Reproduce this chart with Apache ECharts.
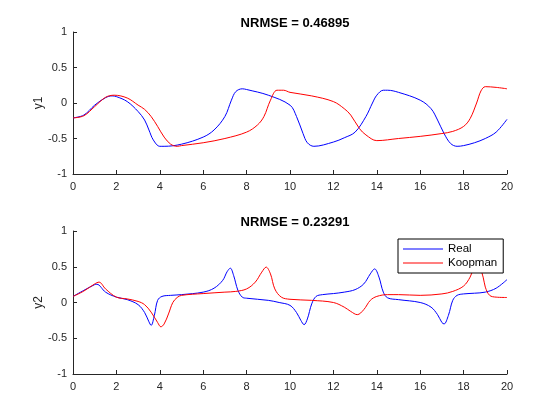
<!DOCTYPE html>
<html>
<head>
<meta charset="utf-8">
<script src="https://cdn.jsdelivr.net/npm/echarts@6/dist/echarts.min.js"></script>
<style>html,body{margin:0;padding:0;background:#fff}#c{width:560px;height:420px}</style>
</head>
<body>
<div id="c"></div>
<script>
// ---- Data ----
const titles = ['NRMSE = 0.46895', 'NRMSE = 0.23291'];
const yNames = ['y1', 'y2'];
const xTicks = [0, 2, 4, 6, 8, 10, 12, 14, 16, 18, 20];
const yTicks = [-1, -0.5, 0, 0.5, 1];

const tRealY1 = [0,0.5,1,1.5,1.8,2,2.5,3,3.3,3.5,3.7,4,4.2,5,6,6.5,7,7.3,7.5,7.8,8,9,10,10.3,10.6,10.8,11.1,12,12.5,13,13.5,13.8,14,14.3,14.5,15,16,16.5,16.8,17.1,17.4,17.7,18,18.5,19,19.5,20];
const realY1 = [-0.21,-0.17,-0.03,0.075,0.10,0.09,0.02,-0.12,-0.24,-0.38,-0.52,-0.61,-0.61,-0.58,-0.48,-0.38,-0.19,0.04,0.16,0.20,0.19,0.11,-0.03,-0.19,-0.43,-0.56,-0.61,-0.55,-0.49,-0.41,-0.19,0,0.11,0.18,0.18,0.15,0.04,-0.08,-0.24,-0.43,-0.57,-0.61,-0.60,-0.56,-0.50,-0.41,-0.23];

const tKoopY1 = [0,0.5,1,1.5,1.9,2.5,3,3.3,3.6,3.9,4.2,4.5,4.8,5,6,7,8,8.5,8.8,9.1,9.4,9.7,10,11,12,12.5,12.8,13.2,13.5,14,15,16,17,17.5,18,18.3,18.6,18.8,19,19.5,20];
const koopY1 = [-0.21,-0.18,-0.05,0.08,0.11,0.07,-0.03,-0.09,-0.19,-0.33,-0.48,-0.58,-0.61,-0.60,-0.56,-0.50,-0.41,-0.31,-0.19,0.04,0.18,0.18,0.15,0.10,0.02,-0.08,-0.17,-0.36,-0.45,-0.53,-0.50,-0.47,-0.43,-0.40,-0.33,-0.22,0,0.17,0.23,0.22,0.20];

const tRealY2 = [0,0.5,1,1.1,1.5,2,2.5,3,3.3,3.5,3.6,3.75,3.9,4.1,4.5,5,6,6.5,6.9,7.1,7.25,7.4,7.6,7.8,8,9,9.5,10,10.3,10.5,10.65,10.8,11,11.2,11.5,12,12.5,13,13.4,13.7,13.9,14.1,14.3,14.5,15,16,16.5,16.8,17,17.1,17.3,17.5,17.7,18,18.5,19,19.5,20];
const realY2 = [0.085,0.17,0.25,0.255,0.145,0.075,0.04,-0.03,-0.14,-0.27,-0.32,-0.18,0.03,0.085,0.10,0.11,0.145,0.20,0.31,0.43,0.48,0.38,0.17,0.075,0.06,0.03,0,-0.04,-0.14,-0.25,-0.31,-0.23,-0.02,0.085,0.11,0.125,0.145,0.18,0.26,0.40,0.47,0.355,0.145,0.065,0.04,0,-0.065,-0.17,-0.28,-0.30,-0.18,0.03,0.10,0.12,0.13,0.145,0.20,0.32];

const tKoopY2 = [0,0.5,1,1.2,1.5,2,2.5,3,3.3,3.6,3.9,4.05,4.2,4.4,4.6,4.8,5,6,7,7.5,8,8.4,8.7,8.9,9.1,9.3,9.6,10,11,12,12.5,12.8,13.1,13.4,13.7,14,14.5,15,16,17,17.5,18,18.3,18.5,18.65,18.9,19,19.2,19.5,20];
const koopY2 = [0.085,0.16,0.26,0.285,0.19,0.075,0.05,0.015,-0.03,-0.135,-0.28,-0.34,-0.30,-0.16,0,0.07,0.10,0.125,0.145,0.155,0.19,0.285,0.425,0.495,0.40,0.19,0.075,0.045,0.03,0,-0.065,-0.125,-0.17,-0.10,0.03,0.085,0.11,0.11,0.10,0.12,0.155,0.23,0.355,0.50,0.55,0.355,0.215,0.10,0.075,0.07];

// ---- Chart ----
const zip = (xs, ys) => xs.map((x, i) => [x, ys[i]]);
const axisColor = '#262626';
const font = 'Liberation Sans, Arial, Helvetica, sans-serif';

const grids = [
  { left: 73, right: 53, top: 32, height: 142 },
  { left: 73, right: 53, top: 231, height: 143 }
];

function xAxis(i) {
  return {
    type: 'value', gridIndex: i, min: 0, max: 20, interval: 2,
    axisLine: { onZero: false, lineStyle: { color: axisColor, width: 1 } },
    axisTick: { inside: true, length: 4, lineStyle: { color: axisColor } },
    axisLabel: { color: axisColor, fontSize: 11, fontFamily: font, margin: 7,
      formatter: v => xTicks.includes(v) ? String(v) : '' },
    splitLine: { show: false }
  };
}
function yAxis(i) {
  return {
    type: 'value', gridIndex: i, min: -1, max: 1, interval: 0.5,
    name: yNames[i], nameLocation: 'middle', nameGap: 28, nameRotate: 90,
    nameMoveOverlap: false,
    nameTextStyle: { color: axisColor, fontSize: 12, fontFamily: font },
    axisLine: { show: true, onZero: false, lineStyle: { color: axisColor, width: 1 } },
    axisTick: { show: true, inside: true, length: 4, lineStyle: { color: axisColor } },
    axisLabel: { color: axisColor, fontSize: 11, fontFamily: font, margin: 6,
      formatter: v => yTicks.includes(v) ? String(v) : '' },
    splitLine: { show: false }
  };
}
function line(name, data, color, i) {
  return {
    name, type: 'line', xAxisIndex: i, yAxisIndex: i, data,
    smooth: 0.35, symbol: 'none', showSymbol: false,
    lineStyle: { color, width: 1 }, itemStyle: { color }, z: 2
  };
}

const chart = echarts.init(document.getElementById('c'), null, { renderer: 'canvas' });
chart.setOption({
  backgroundColor: '#ffffff',
  animation: false,
  title: [
    { text: titles[0], left: 290, textAlign: 'center', top: 12,
      textStyle: { fontSize: 13, fontWeight: 'bold', color: '#000', fontFamily: font } },
    { text: titles[1], left: 290, textAlign: 'center', top: 211,
      textStyle: { fontSize: 13, fontWeight: 'bold', color: '#000', fontFamily: font } }
  ],
  grid: grids,
  xAxis: [xAxis(0), xAxis(1)],
  yAxis: [yAxis(0), yAxis(1)],
  legend: {
    data: [
      { name: 'Real', icon: 'rect', itemStyle: { color: '#0000ff' } },
      { name: 'Koopman', icon: 'rect', itemStyle: { color: '#ff0000' } }
    ],
    orient: 'vertical', left: 398, top: 239,
    width: 92, padding: [4, 6, 4, 5], itemGap: 2, itemWidth: 40, itemHeight: 1,
    backgroundColor: '#ffffff', borderColor: '#000', borderWidth: 1, borderRadius: 0,
    textStyle: { color: '#000', fontSize: 11.5, fontFamily: font, lineHeight: 12 },
    z: 10
  },
  series: [
    line('Real', zip(tRealY1, realY1), '#0000ff', 0),
    line('Koopman', zip(tKoopY1, koopY1), '#ff0000', 0),
    line('Real', zip(tRealY2, realY2), '#0000ff', 1),
    line('Koopman', zip(tKoopY2, koopY2), '#ff0000', 1)
  ]
});
</script>
</body>
</html>
